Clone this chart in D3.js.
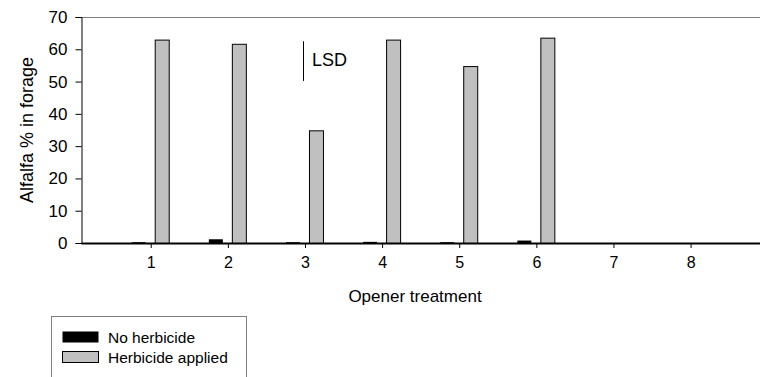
<!DOCTYPE html>
<html>
<head>
<meta charset="utf-8">
<script src="https://cdn.jsdelivr.net/npm/d3@7"></script>
<style>
  html, body { margin: 0; padding: 0; background: #fff; }
  svg { display: block; font-family: "Liberation Sans", Arial, sans-serif; }
</style>
</head>
<body>
<svg id="chart" width="760" height="377"></svg>
<script>
// Opener treatments and alfalfa share of forage (%)
const treatments = [1, 2, 3, 4, 5, 6, 7, 8];
const noHerbicide = [0.1, 1.0, 0.1, 0.2, 0.1, 0.6, null, null];
const herbicideApplied = [63.0, 61.7, 34.9, 63.0, 54.8, 63.6, null, null];
const yTicks = [0, 10, 20, 30, 40, 50, 60, 70];
const seriesNames = ["No herbicide", "Herbicide applied"];
const seriesColors = ["#000000", "#c0c0c0"];
const lsdValue = 12.3;

const svg = d3.select("#chart");
const plotLeft = 81, plotRight = 760, plotTop = 17, plotBottom = 243;

const x = d3.scaleLinear().domain([0.096, 8.9]).range([plotLeft, plotRight]);
const y = d3.scaleLinear().domain([0, 70]).range([plotBottom, plotTop]);

// top frame line
svg.append("line")
  .attr("x1", plotLeft).attr("x2", plotRight).attr("y1", plotTop + 0.5).attr("y2", plotTop + 0.5)
  .attr("stroke", "#808080").attr("stroke-width", 1);

// y axis
const yAxis = svg.append("g")
  .attr("transform", `translate(${plotLeft + 0.5},0)`)
  .call(d3.axisLeft(y).tickValues(yTicks).tickSize(6).tickPadding(8).tickFormat(d3.format("d")));
yAxis.select(".domain").attr("stroke", "#000");
yAxis.selectAll(".tick line").attr("stroke", "#000");
yAxis.selectAll("text").attr("font-size", 17).attr("fill", "#000")
  .attr("font-family", "Liberation Sans, Arial, sans-serif");

// bars
const barW = 14;
const blackOff = -19, grayOff = 4;
const barG = svg.append("g");
barG.selectAll("rect.nh")
  .data(treatments.map((t, i) => ({ t, v: noHerbicide[i] })).filter(d => d.v != null))
  .join("rect").attr("class", "nh")
  .attr("x", d => x(d.t) + blackOff)
  .attr("width", barW)
  .attr("y", d => y(d.v) - 0.5)
  .attr("height", d => Math.max(1, y(0) - y(d.v) + 0.5))
  .attr("fill", seriesColors[0]);

barG.selectAll("rect.ha")
  .data(treatments.map((t, i) => ({ t, v: herbicideApplied[i] })).filter(d => d.v != null))
  .join("rect").attr("class", "ha")
  .attr("x", d => x(d.t) + grayOff + 0.5)
  .attr("width", barW)
  .attr("y", d => y(d.v) + 0.5)
  .attr("height", d => y(0) - y(d.v))
  .attr("fill", seriesColors[1])
  .attr("stroke", "#000").attr("stroke-width", 1);

// x axis
const xAxis = svg.append("g")
  .attr("transform", `translate(0,${plotBottom})`)
  .call(d3.axisBottom(x).tickValues(treatments).tickSize(5).tickSizeOuter(0).tickPadding(9).tickFormat(d3.format("d")));
xAxis.select(".domain").attr("stroke", "#000").attr("stroke-width", 2);
xAxis.selectAll(".tick line").attr("stroke", "#000");
xAxis.selectAll("text").attr("font-size", 16).attr("fill", "#000")
  .attr("font-family", "Liberation Sans, Arial, sans-serif");

// LSD marker
const lsdX = 303.5, lsdTop = y(62.5);
svg.append("line")
  .attr("x1", lsdX).attr("x2", lsdX)
  .attr("y1", lsdTop).attr("y2", lsdTop + (y(0) - y(lsdValue)))
  .attr("stroke", "#000").attr("stroke-width", 1);
svg.append("text").attr("x", 312).attr("y", 66)
  .attr("font-size", 18).text("LSD");

// axis titles
svg.append("text")
  .attr("transform", "translate(33,130) rotate(-90)")
  .attr("text-anchor", "middle").attr("font-size", 18)
  .text("Alfalfa % in forage");
svg.append("text")
  .attr("x", 415).attr("y", 302)
  .attr("text-anchor", "middle").attr("font-size", 17)
  .text("Opener treatment");

// legend
const lg = svg.append("g");
lg.append("rect").attr("x", 51.5).attr("y", 316.5).attr("width", 195).attr("height", 80)
  .attr("fill", "#fff").attr("stroke", "#808080");
seriesNames.forEach((name, i) => {
  lg.append("rect").attr("x", 62.5).attr("y", 331.5 + i * 20).attr("width", 36).attr("height", 11)
    .attr("fill", seriesColors[i]).attr("stroke", i ? "#000" : "none");
  lg.append("text").attr("x", 108).attr("y", 343 + i * 20)
    .attr("font-size", 15.5).text(name);
});
</script>
</body>
</html>
